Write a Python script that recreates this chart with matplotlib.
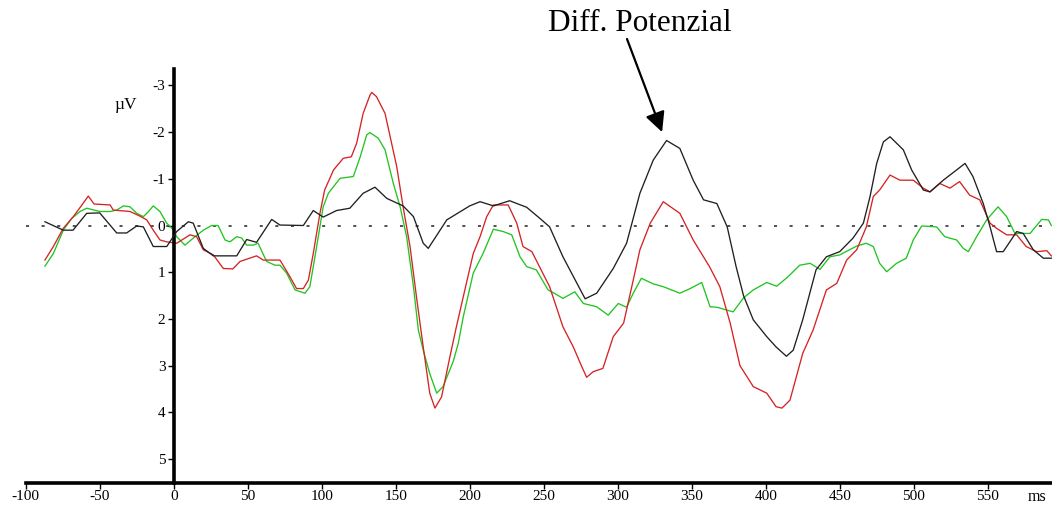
import matplotlib
matplotlib.use("Agg")
import matplotlib.pyplot as plt

# ---- data (ms, µV) ----
black_t = [-87, -74.6, -68, -58.8, -50, -38.5, -31.8, -25, -20.5, -13.8,
           -4.7, 2, 9.9, 13.2, 20, 26.8, 42.6, 49.3, 56, 66.2,
           71.8, 87.6, 94.3, 101, 110, 119, 128, 136, 144, 155,
           162, 168.6, 172, 184.5, 200, 207, 216, 227, 238.5, 247.5,
           254, 263, 278, 285.8, 297, 306, 315, 324, 333, 342,
           351, 358, 367, 374, 380, 385, 391.6, 400.7, 407, 414,
           418.6, 425, 434, 441, 450, 459, 466, 470.5, 475, 479.5,
           484, 493, 498.6, 506.5, 511, 520, 529, 534.7, 540, 547,
           551.6, 556, 560.5, 569.6, 574, 580.8, 587.6, 593]
black_v = [-0.08, 0.1, 0.1, -0.26, -0.27, 0.16, 0.16, 0.01, 0.03, 0.45,
           0.45, 0.13, -0.08, -0.05, 0.49, 0.65, 0.65, 0.3, 0.36, -0.13,
           -0.01, 0, -0.32, -0.18, -0.32, -0.37, -0.69, -0.82, -0.58, -0.42,
           -0.19, 0.38, 0.49, -0.12, -0.42, -0.51, -0.42, -0.53, -0.39, -0.15,
           0.03, 0.67, 1.57, 1.45, 0.92, 0.38, -0.69, -1.4, -1.82, -1.65,
           -0.97, -0.55, -0.47, 0.03, 0.88, 1.5, 2.02, 2.38, 2.6, 2.8,
           2.67, 2.02, 0.95, 0.67, 0.56, 0.27, -0.05, -0.62, -1.33, -1.79,
           -1.9, -1.62, -1.19, -0.76, -0.72, -0.97, -1.19, -1.33, -1.05, -0.47,
           0.03, 0.56, 0.56, 0.13, 0.17, 0.52, 0.7, 0.7]

red_t = [-87, -81.3, -74.6, -67.8, -62, -57.7, -53.8, -43, -40.8, -29.5,
         -22.8, -18.2, -13.8, -9.3, -4.7, 2, 11, 15.5, 20, 26.8,
         33.5, 40, 44.8, 56, 60.5, 71.8, 78.6, 83, 87.6, 91,
         94.3, 98.8, 102, 108, 114.6, 120, 123.6, 128, 132.6, 133.8,
         137, 142.8, 150.7, 155, 159.7, 164, 168.6, 173, 176.5, 181,
         186.7, 191, 195.7, 202.4, 207, 211.5, 216, 226, 231.8, 236,
         242, 254, 263, 270, 275.7, 279, 283.5, 290, 297, 304,
         310.5, 315, 322, 330.8, 342, 351, 362, 369, 376, 382.6,
         391.6, 400.7, 407, 411, 416.4, 425, 432, 441, 448, 454.7,
         461.5, 468, 472.7, 477, 484, 490.7, 499.7, 506.5, 511, 517.6,
         524.5, 531, 537.8, 544.6, 551.6, 556, 562.8, 569.6, 576, 583,
         590, 593]
red_v = [0.74, 0.45, 0.06, -0.19, -0.44, -0.63, -0.46, -0.44, -0.33, -0.3,
         -0.2, -0.12, 0.1, 0.31, 0.35, 0.38, 0.2, 0.24, 0.52, 0.63,
         0.92, 0.93, 0.77, 0.65, 0.74, 0.74, 1.1, 1.35, 1.35, 1.17,
         0.6, -0.26, -0.76, -1.19, -1.44, -1.47, -1.76, -2.4, -2.79, -2.85,
         -2.76, -2.4, -1.26, -0.4, 0.45, 1.52, 2.6, 3.59, 3.91, 3.67,
         2.8, 2.17, 1.52, 0.6, 0.24, -0.19, -0.44, -0.44, -0.05, 0.45,
         0.56, 1.31, 2.17, 2.6, 3.02, 3.25, 3.13, 3.06, 2.38, 2.09,
         1.17, 0.52, -0.05, -0.51, -0.26, 0.31, 0.88, 1.31, 2.09, 3.0,
         3.45, 3.59, 3.88, 3.91, 3.74, 2.74, 2.24, 1.38, 1.24, 0.74,
         0.52, 0.03, -0.62, -0.76, -1.08, -0.97, -0.97, -0.8, -0.72, -0.9,
         -0.8, -0.94, -0.65, -0.55, -0.05, 0.06, 0.2, 0.2, 0.45, 0.56,
         0.54, 0.65]

green_t = [-87, -81.3, -74.6, -69, -63.3, -58.8, -49.8, -43, -38.5, -34,
           -29.5, -25, -20.5, -17, -13.8, -9.3, -4.7, 0, 2, 7.6,
           14.4, 20, 25.7, 30, 34.7, 38, 42.6, 46, 49.3, 53.8,
           57, 62.8, 68.4, 71.8, 76.3, 82, 88.7, 92, 96.6, 101,
           104.5, 112.4, 121.4, 126, 130.4, 132.6, 138.2, 142.8, 148.4, 153,
           157.4, 162, 165.3, 168.6, 173, 177.7, 182, 189, 192.3, 195.7,
           202.4, 209, 216, 222.7, 228.4, 234, 238.5, 245, 253, 256.5,
           263, 271, 276.8, 285.8, 293.6, 300.4, 306, 310.5, 316, 324,
           330.8, 342, 349, 356.8, 362.4, 367, 378, 385, 391.6, 400.7,
           407.4, 415, 423, 430, 436.7, 443.4, 450, 461.5, 468, 472.7,
           477, 481.7, 488.4, 495, 499.7, 505.4, 515.5, 521, 529, 533.5,
           536.9, 542.5, 549.3, 557, 562.8, 568.4, 578.6, 586.5, 591, 593]
green_v = [0.87, 0.6, 0.1, -0.15, -0.3, -0.37, -0.3, -0.3, -0.33, -0.42,
           -0.4, -0.26, -0.19, -0.3, -0.42, -0.3, -0.05, 0.1, 0.24, 0.42,
           0.24, 0.1, 0, 0, 0.31, 0.35, 0.24, 0.27, 0.42, 0.42,
           0.38, 0.77, 0.85, 0.85, 1.02, 1.38, 1.45, 1.31, 0.45, -0.4,
           -0.69, -1.01, -1.05, -1.47, -1.94, -1.99, -1.87, -1.62, -0.9, -0.4,
           0.24, 1.31, 2.24, 2.67, 3.17, 3.59, 3.45, 2.9, 2.52, 1.95,
           1.02, 0.6, 0.08, 0.13, 0.2, 0.67, 0.88, 0.95, 1.38, 1.44,
           1.56, 1.42, 1.67, 1.74, 1.92, 1.67, 1.75, 1.45, 1.13, 1.25,
           1.31, 1.45, 1.35, 1.22, 1.74, 1.75, 1.85, 1.55, 1.38, 1.22,
           1.3, 1.1, 0.85, 0.81, 0.94, 0.67, 0.63, 0.44, 0.38, 0.45,
           0.81, 0.99, 0.81, 0.7, 0.31, 0.01, 0.03, 0.24, 0.31, 0.49,
           0.56, 0.24, -0.12, -0.4, -0.19, 0.17, 0.17, -0.13, -0.12, 0]

x_ticks = [-100, -50, 0, 50, 100, 150, 200, 250, 300, 350, 400, 450, 500, 550]
x_ticklabels = ["-100", "-50", "0", "50", "100", "150", "200", "250", "300",
                "350", "400", "450", "500", "550"]
y_ticks = [-3, -2, -1, 0, 1, 2, 3, 4, 5]
y_ticklabels = ["-3", "-2", "-1", "0", "1", "2", "3", "4", "5"]

annot_text = "Diff. Potenzial"
annot_xy = (330, -2.0)

# ---- figure ----
W, H = 1052, 511
fig = plt.figure(figsize=(W / 100, H / 100), dpi=100)
left_px, right_px, top_px, bottom_px = 25.7, 1052, 69, 482.7
ax = fig.add_axes([left_px / W, 1 - bottom_px / H,
                   (right_px - left_px) / W, (bottom_px - top_px) / H])
ax.set_xlim(-100, (right_px - 173.7) / 1.48)
ax.set_ylim((bottom_px - 225.5) / 46.7, (top_px - 225.5) / 46.7)

serif = "Liberation Serif"

ax.axhline(0, color="#222222", lw=1.1, linestyle=(0, (2.0, 8.2)), zorder=1)

ax.plot(black_t, black_v, color="#202020", lw=0.95, zorder=3)
ax.plot(green_t, green_v, color="#22c422", lw=0.95, zorder=2)
ax.plot(red_t, red_v, color="#d42424", lw=0.95, zorder=2.5)

for s in ["top", "right"]:
    ax.spines[s].set_visible(False)
ax.spines["left"].set_position(("data", 0))
ax.spines["left"].set_linewidth(2.6)
ax.spines["bottom"].set_linewidth(2.6)

ax.set_xticks(x_ticks)
ax.set_xticklabels(x_ticklabels, fontfamily=serif, fontsize=11)
ax.set_yticks(y_ticks)
ax.set_yticklabels(y_ticklabels, fontfamily=serif, fontsize=11)
ax.tick_params(axis="x", direction="out", length=4, width=1, pad=1.5)
ax.tick_params(axis="y", direction="out", length=4, width=1, pad=2)

fig.text(126 / W, 1 - 105 / H, "µV", fontfamily=serif, fontsize=12.5,
         ha="center", va="center")
fig.text(1037 / W, 1 - 497 / H, "ms", fontfamily=serif, fontsize=11.5,
         ha="center", va="center")

fig.text(640 / W, 1 - 23 / H, annot_text, fontfamily=serif, fontsize=22.5,
         ha="center", va="center")
ax.annotate("", xy=annot_xy, xytext=((627 - 173.7) / 1.48, (39 - 225.5) / 46.7),
            xycoords="data", textcoords="data", annotation_clip=False,
            arrowprops=dict(arrowstyle="-|>", color="black", lw=1.6,
                            mutation_scale=30, shrinkA=0, shrinkB=0))

fig.savefig("out.png", dpi=100)
